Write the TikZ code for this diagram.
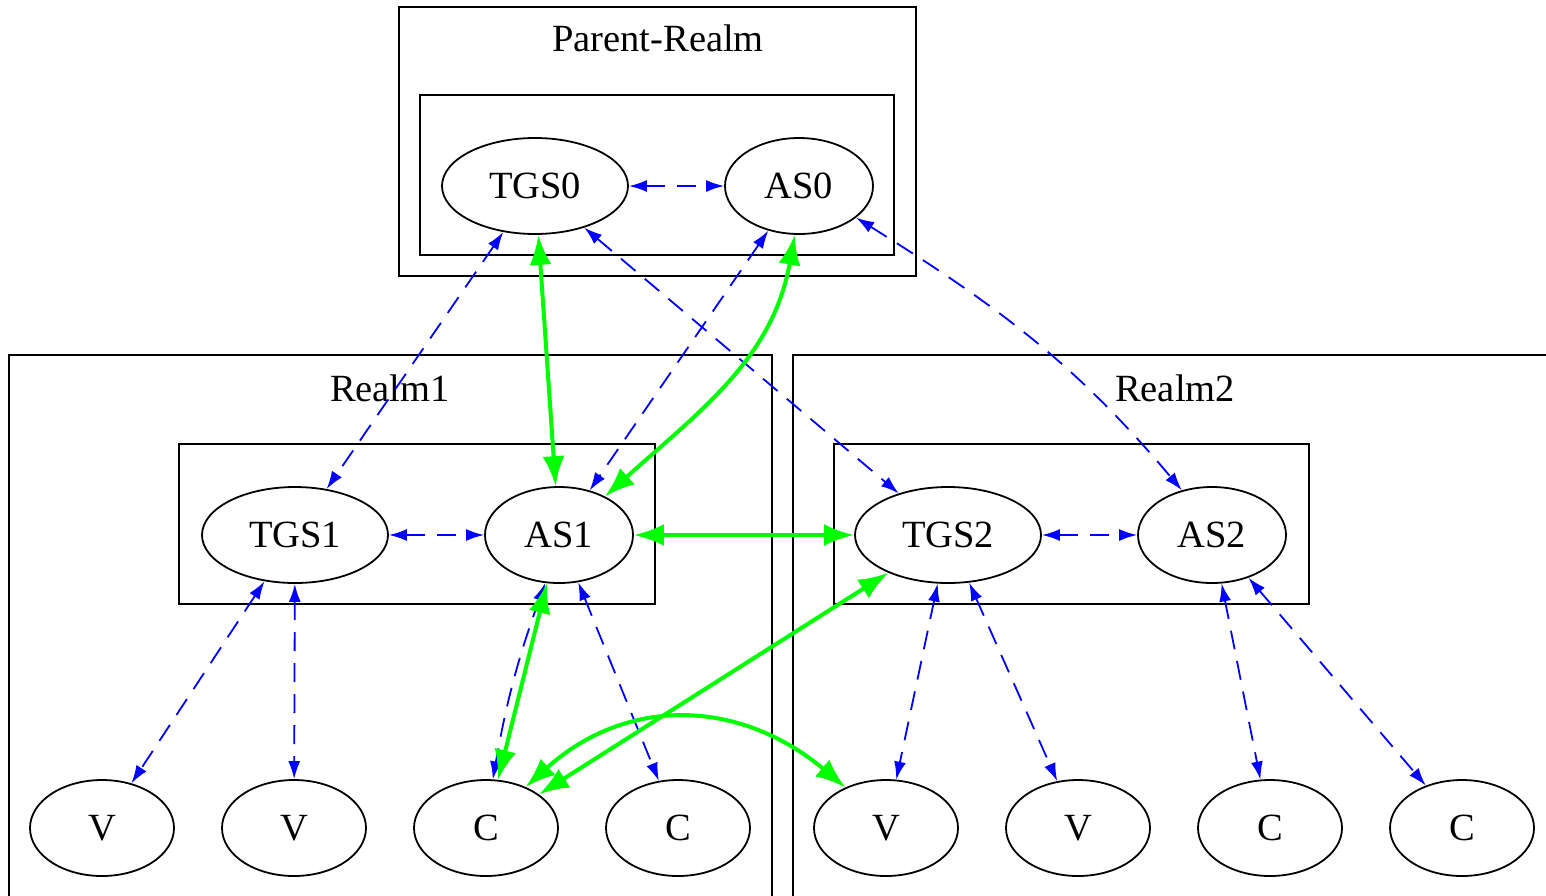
\documentclass[tikz,border=0pt]{standalone}
\usepackage{fontspec}
\setmainfont{Liberation Serif}
\usetikzlibrary{shapes, arrows.meta}

\begin{document}
\begin{tikzpicture}[x=1pt, y=-1pt,
  font=\fontsize{38.5}{46}\selectfont,
  server/.style={ellipse, draw, line width=1.8pt, inner sep=0pt, minimum width=186pt, minimum height=96pt},
  auth/.style={server, minimum width=148pt},
  host/.style={server, minimum width=144pt},
  realm/.style={draw, line width=2pt},
  link/.style={blue, line width=1.8pt, dash pattern=on 19pt off 12pt, {Latex[length=18pt,width=12pt]}-{Latex[length=18pt,width=12pt]}},
  trust/.style={green, line width=4pt, {Latex[length=30pt,width=22pt]}-{Latex[length=30pt,width=22pt]}}]

\useasboundingbox (0,0) rectangle (1546,895);
\clip (0,0) rectangle (1546,895);

%Parent Realm
\draw[realm] (399,7) rectangle (916,276);
\draw[realm] (420,95) rectangle (894,255);
\node (lp) at (658,38) {Parent-Realm};

%Realm 1
\draw[realm] (9,355) rectangle (772,920);
\draw[realm] (179,444) rectangle (655,604);
\node (l1) at (390,388) {Realm1};

%Realm 2
\draw[realm] (793,355) rectangle (1580,920);
\draw[realm] (834,444) rectangle (1309,604);
\node (l2) at (1175,388) {Realm2};

%% Servers
\node[server] (tgs0) at (535,186) {TGS0};
\node[auth] (as0) at (799,186) {AS0};
\node[server] (tgs1) at (295,535) {TGS1};
\node[auth] (as1) at (559,535) {AS1};
\node[server] (tgs2) at (948,535) {TGS2};
\node[auth] (as2) at (1212,535) {AS2};

%% Hosts
\node[host] (v1) at (102,828) {V};
\node[host] (v2) at (294,828) {V};
\node[host] (c1) at (486,828) {C};
\node[host] (c2) at (678,828) {C};
\node[host] (v3) at (886,828) {V};
\node[host] (v4) at (1078,828) {V};
\node[host] (c3) at (1270,828) {C};
\node[host] (c4) at (1462,828) {C};

% dashed links
\foreach \from/\to in {tgs0/as0, tgs0/tgs1, as0/as1, tgs0/tgs2, tgs1/as1, tgs2/as2,
  tgs1/v1, tgs1/v2, as1/c2, tgs2/v3, tgs2/v4, as2/c3, as2/c4}
\draw [link] (\from) -- (\to);
\draw [link] (as0.-29) to[out=-32, in=130] (as2.124);
\draw [link] (as1.-106) to[bend right=5] (c1.82);

% green links
\foreach \from/\to in {tgs0/as1, as1/tgs2, as1/c1, tgs2/c1}
\draw [trust] (\from) -- (\to);
\draw [trust] (as0.-95) to[out=-100, in=42] (as1.40);
\draw [trust] (c1.46) to[out=42, in=140, looseness=1.1] (v3.135);

\end{tikzpicture}
\end{document}
